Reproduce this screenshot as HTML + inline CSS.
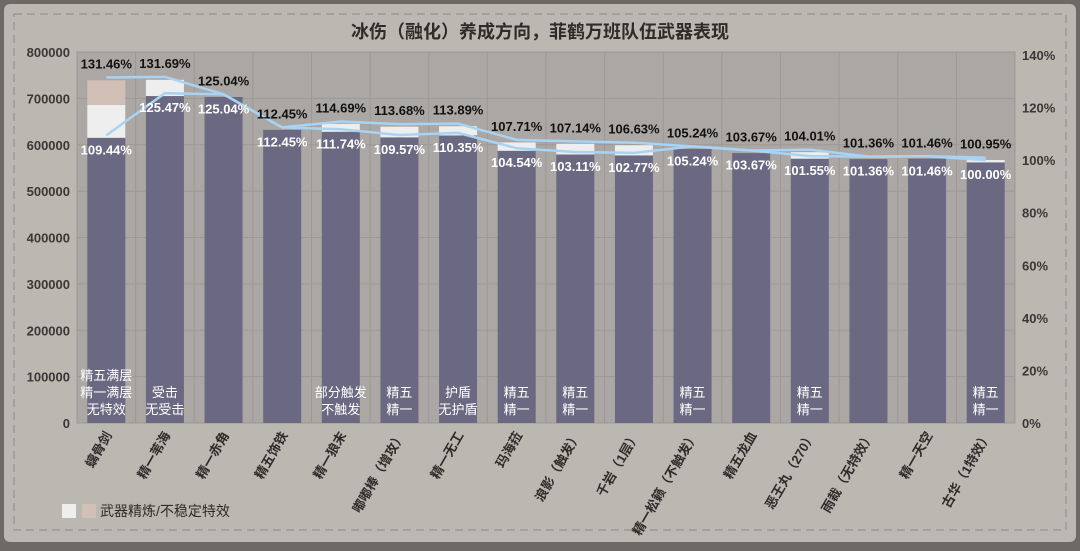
<!DOCTYPE html>
<html><head><meta charset="utf-8"><style>
body{margin:0;width:1080px;height:546px;overflow:hidden;background:#6e6965;font-family:"Liberation Sans","Noto Sans CJK SC",sans-serif}
</style></head><body>
<svg width="1080" height="546" xmlns="http://www.w3.org/2000/svg" font-family="Liberation Sans, Noto Sans CJK SC, sans-serif">
<rect x="4" y="4" width="1072" height="538" rx="6" fill="#bbb7b1"/>
<rect x="14" y="14" width="1052" height="516" fill="none" stroke="#8e8a85" stroke-dasharray="8,5"/>
<text x="540" y="38" text-anchor="middle" font-size="18" font-weight="bold" fill="#2e2c2a">冰伤（融化）养成方向，菲鹤万班队伍武器表现</text>
<g id="plot"></g>
<g>
<rect x="62" y="504" width="14" height="14" fill="#eeeeee"/>
<rect x="82" y="504" width="14" height="14" fill="#d2bfb6"/>
<text x="100" y="516" font-size="14" fill="#2e2c2a">武器精炼/不稳定特效</text>
</g>
</svg>
<script>
const categories=["螭骨剑","精一苇海","精一赤角","精五饰铁","精一狼末","嘟嘟棒（增攻）","精一无工","玛海菈","浪影（触发）","千岩（1层）","精一松籁（不触发）","精五龙血","恶王丸（270）","雨裁（无特效）","精一天空","古华（1特效）"];
const baseVals=[615000,705000,703000,632000,628000,616000,620000,587000,579000,577000,591000,582000,570000,569000,570000,562000];
const refineVals=[71000,35000,0,0,17000,23000,20000,18000,23000,22000,0,0,14000,0,0,5000];
const unstableVals=[53000,0,0,0,0,0,0,0,0,0,0,0,0,0,0,0];
const upperPct=[131.46,131.69,125.04,112.45,114.69,113.68,113.89,107.71,107.14,106.63,105.24,103.67,104.01,101.36,101.46,100.95];
const lowerPct=[109.44,125.47,125.04,112.45,111.74,109.57,110.35,104.54,103.11,102.77,105.24,103.67,101.55,101.36,101.46,100.00];
const notes=[["精五满层","精一满层","无特效"],["受击","无受击"],[],[],["部分触发","不触发"],["精五","精一"],["护盾","无护盾"],["精五","精一"],["精五","精一"],[],["精五","精一"],[],["精五","精一"],[],[],["精五","精一"]];
const leftTicks=[0,100000,200000,300000,400000,500000,600000,700000,800000];
const rightTicks=[0,20,40,60,80,100,120,140];

const NS="http://www.w3.org/2000/svg";
const X0=77,X1=1015,Y0=423,YT=52;
const bw=(X1-X0)/categories.length;
const y=v=>Y0-(v/800000)*(Y0-YT);
const yp=p=>Y0-(p/140)*(Y0-55);
const xc=i=>X0+bw*(i+0.5);
const g=document.getElementById('plot');
function mk(t,a,txt){const e=document.createElementNS(NS,t);for(const k in a)e.setAttribute(k,a[k]);if(txt!==undefined)e.textContent=txt;g.appendChild(e);return e;}
let e=mk('rect',{x:X0,y:YT,width:X1-X0,height:Y0-YT,fill:'#aaa7a4',stroke:'#8a8783'});

leftTicks.forEach(t=>{
 e=mk('line',{x1:X0,x2:X1,y1:y(t),y2:y(t),stroke:'#9c9995','stroke-width':1});
 
 e=mk('text',{x:70,y:y(t)+5,'text-anchor':'end','font-size':13,'font-weight':'bold',fill:'#3a3836'},String(t));
 
});
for(let i=0;i<=categories.length;i++){e=mk('line',{x1:X0+bw*i,x2:X0+bw*i,y1:YT,y2:Y0,stroke:'#9c9995'});
 }
rightTicks.forEach(t=>{
 e=mk('text',{x:1022,y:yp(t)+5,'font-size':13,'font-weight':'bold',fill:'#3a3836'},t+'%');
 
});
const BW=38;
categories.forEach((c,i)=>{
 const x=xc(i)-BW/2;
 e=mk('rect',{x:x,y:y(baseVals[i]),width:BW,height:Y0-y(baseVals[i]),fill:'#6b6882'});
 
 if(refineVals[i]>0){e=mk('rect',{x:x,y:y(baseVals[i]+refineVals[i]),width:BW,height:y(baseVals[i])-y(baseVals[i]+refineVals[i]),fill:'#eeeeee'});
 }
 if(unstableVals[i]>0){const b=baseVals[i]+refineVals[i];e=mk('rect',{x:x,y:y(b+unstableVals[i]),width:BW,height:y(b)-y(b+unstableVals[i]),fill:'#d2bfb6'});
 }
 const n=notes[i];n.forEach((s,k)=>{e=mk('text',{x:xc(i),y:Y0-48+(3-n.length)*17+k*17+5-17*(3-n.length)+ (n.length===2?17:0),'text-anchor':'middle','font-size':13,fill:'#ffffff'},s);
 });
 e=mk('text',{transform:`translate(${xc(i)+6},${Y0+12}) rotate(-60)`,'text-anchor':'end','font-size':13,'font-weight':'bold',fill:'#2e2c2a'},c);
 
});
function line(arr,name){e=mk('polyline',{points:arr.map((p,i)=>xc(i)+','+yp(p)).join(' '),fill:'none',stroke:'#a9d3f2','stroke-width':2.5});
 }
line(upperPct,'line-upper');line(lowerPct,'line-lower');
categories.forEach((c,i)=>{
 e=mk('text',{x:xc(i),y:yp(upperPct[i])-9,'text-anchor':'middle','font-size':13,'font-weight':'bold',fill:'#111'},upperPct[i].toFixed(2)+'%');
 
 e=mk('text',{x:xc(i),y:yp(lowerPct[i])+19,'text-anchor':'middle','font-size':13,'font-weight':'bold',fill:'#ffffff'},lowerPct[i].toFixed(2)+'%');
 
});
</script>
</body></html>
